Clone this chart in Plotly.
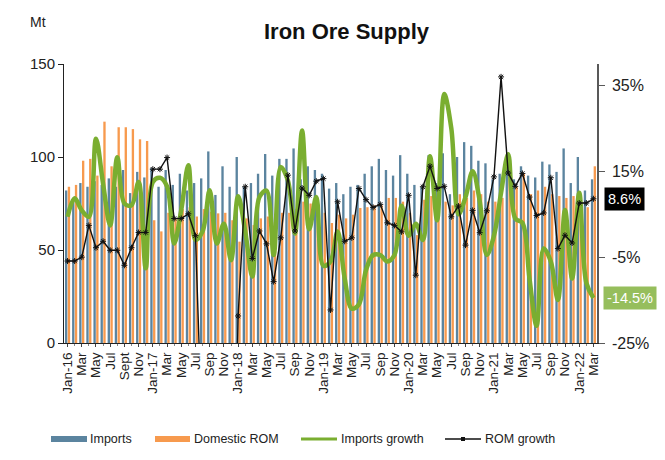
import plotly.graph_objects as go

# ---------------- data (Jan-16 .. Mar-22, monthly) ----------------
tick_labels = ["Jan-16", "Mar", "May", "Jul", "Sept", "Nov",
               "Jan-17", "Mar", "May", "Jul", "Sep", "Nov",
               "Jan-18", "Mar", "May", "Jul", "Sep", "Nov",
               "Jan-19", "Mar", "May", "Jul", "Sep", "Nov",
               "Jan-20", "Mar", "May", "Jul", "Sep", "Nov",
               "Jan-21", "Mar", "May", "Jul", "Sep", "Nov",
               "Jan-22", "Mar"]

imports = [82, 78, 86, 84, 87, 85, 88.5, 84, 93, 80.6, 92, 89,
           94, 84, 93, 85, 91, 82, 86, 88.5, 103, 79.6, 95, 84,
           100, 84, 86, 91, 101.6, 90, 99, 99, 104.6, 88, 95, 93,
           91, 83, 86, 80, 84, 85, 91, 95, 99, 93, 90, 101,
           91, 85, 84, 101, 86, 102, 80, 100, 108, 106, 98, 96.6,
           88, 91, 100, 88, 95, 90, 89, 97.5, 96, 92, 104.6, 86,
           100, 82, 88]

domestic_rom = [84, 85, 98, 99, 90, 119, 95, 116, 116, 115, 109.5, 108.6,
                66, 60, 70, 67, 72, 73, 68, 72, 70.6, 69.7, 70, 66,
                54.5, 67, 63.4, 67, 68, 65, 70, 70, 72, 76, 75, 72,
                70, 64.5, 69, 67, 69, 72.6, 73, 74, 74, 78, 78, 76,
                70, 58, 77, 79, 74, 76, 74, 80, 78, 82, 80, 76,
                76, 78, 98, 84, 91, 80, 82, 84, 80, 79, 78, 79,
                80, 73, 95]

imports_growth = [4.4, 8.7, 5.9, 4.4, 22.6, 12.1, 2.4, 18.3, 7.5, 7.1, 12.5, -7.6,
                  12.5, 13.5, 11.5, -1.8, 6, 16.4, -1, 1, 10.6, -1.8, 2.8, -5.7,
                  9.2, 1, -9.5, 9, 10.5, -4.5, 16, 12.9, 0.5, 24.5, 1.5, 9.0,
                  -7, -6, 1.0, -10, -17, -16, -8, -4.5, -4.5, -6, -4.5, 7,
                  0, 2.8, -1.0, 18.5, 3.6, 33, 25, 5, 9, 15, 8, -4.5,
                  0, 10, 19, 4, 3, -10, -21, -3, -6, -15, 6, -10,
                  10, -11, -14.5]

rom_growth = [-5.9, -5.9, -5, 2.4, -2.8, -1.3, -3.4, -3.4, -6.9, -2.8, 0.75, 0.75,
              15.5, 15.5, 18.2, 4.0, 4.0, 5.1, 0.0, -100, -100, -100, -100, -100,
              -18.7, 11.4, -5.3, 1.1, -1.9, -10.7, -0.5, 14.1, 1.1, 11.1, 9.4, 12.7,
              13.3, -17.3, 7.9, -1.3, -0.5, 11.0, 8.4, 6.6, 7.3, 3.0, 2.4, 0.9,
              9.4, -9.2, 11.4, 16.2, 11.0, 11.5, 4.4, 6.9, -2.2, 5.9, 0.7, 5.8,
              13.7, 37, 14.6, 11.5, 14.5, 9.0, 4.7, 5.3, 13.5, -3.0, 0.1, -1.7,
              7.6, 7.6, 8.6]

# ---------------- styling ----------------
FONT = "Liberation Sans, Arial, sans-serif"
C_IMP = "#5B849F"
C_ROM = "#F79A4E"
C_GREEN = "#7AAE30"
C_GREEN_LBL = "#96BE5C"

x = list(range(len(imports)))
tick_pos = list(range(0, len(imports), 2))

fig = go.Figure()
fig.add_trace(go.Bar(x=x, y=imports, name="Imports", marker_color=C_IMP,
                     marker_line_width=0, offset=-0.36, width=0.33, showlegend=False))
fig.add_trace(go.Bar(x=x, y=domestic_rom, name="Domestic ROM", marker_color=C_ROM,
                     marker_line_width=0, offset=0.03, width=0.33, showlegend=False))
fig.add_trace(go.Scatter(x=x, y=imports_growth, name="Imports growth", yaxis="y2",
                         mode="lines", line=dict(color=C_GREEN, width=4.5, shape="spline", smoothing=1),
                         showlegend=False))
fig.add_trace(go.Scatter(x=x, y=rom_growth, name="ROM growth", yaxis="y2",
                         mode="lines+markers", line=dict(color="#111111", width=1.4),
                         marker=dict(symbol="asterisk-open", size=5, line=dict(color="#111111", width=1)),
                         showlegend=False))

# page has an 8px body margin: figure is drawn offset by 8px
OFF = 8
W, H = 665 - OFF, 460 - OFF
L, T = 64 - OFF, 64 - OFF
PW, PH = 533, 279
R, B = W - L - PW, H - T - PH


def px(v):  # page pixel x -> paper
    return (v - OFF - L) / PW


def py(v):  # page pixel y -> paper
    return (OFF + T + PH - v) / PH


fig.update_layout(
    width=W, height=H,
    margin=dict(l=L, r=R, t=T, b=B, autoexpand=False),
    paper_bgcolor="white", plot_bgcolor="white",
    barmode="overlay",
    font=dict(family=FONT, color="#222222"),
    xaxis=dict(range=[-0.5, len(imports) - 0.5], tickmode="array", tickvals=tick_pos,
               ticktext=tick_labels, tickangle=-90, tickfont=dict(size=13.5, color="#222222"),
               showline=True, linecolor="#222222", linewidth=1, showgrid=False, zeroline=False,
               ticks="outside", ticklen=3, tickcolor="#444444",
               minor=dict(dtick=1, ticks="outside", ticklen=2, tickcolor="#888888")),
    yaxis=dict(range=[0, 150], tickvals=[0, 50, 100, 150], tickfont=dict(size=15, color="#222222"),
               showline=True, linecolor="#222222", linewidth=1, showgrid=False, zeroline=False,
               ticks="outside", ticklen=5, tickcolor="#222222"),
    yaxis2=dict(range=[-25, 40], overlaying="y", side="right", tickvals=[-25, -5, 15, 35],
                ticktext=["-25%", "-5%", "15%", "35%"], tickfont=dict(size=16, color="#222222"),
                showline=True, linecolor="#595959", linewidth=1.5, showgrid=False, zeroline=False,
                ticks="outside", ticklen=6, tickcolor="#595959", ticklabelstandoff=4),
)

annotations = [
    dict(text="<b>Iron Ore Supply</b>", x=px(347), y=py(31), xref="paper", yref="paper",
         showarrow=False, font=dict(size=22, color="#111111"), xanchor="center", yanchor="middle"),
    dict(text="Mt", x=px(38), y=py(22), xref="paper", yref="paper", showarrow=False,
         font=dict(size=14, color="#222222"), xanchor="center", yanchor="middle"),
    dict(text="8.6%", x=px(604), y=rom_growth[-1], xref="paper", yref="y2", showarrow=False,
         xanchor="left", yanchor="middle", bgcolor="#000000", font=dict(size=14.5, color="white"),
         borderpad=3),
    dict(text="-14.5%", x=px(603), y=imports_growth[-1], xref="paper", yref="y2", showarrow=False,
         xanchor="left", yanchor="middle", bgcolor=C_GREEN_LBL, font=dict(size=14.5, color="white"),
         borderpad=3),
]

# custom legend
LY = 439
shapes = [
    dict(type="rect", xref="paper", yref="paper", x0=px(51), x1=px(87), y0=py(442), y1=py(436),
         fillcolor=C_IMP, line=dict(width=0)),
    dict(type="rect", xref="paper", yref="paper", x0=px(155), x1=px(190), y0=py(442), y1=py(436),
         fillcolor=C_ROM, line=dict(width=0)),
    dict(type="line", xref="paper", yref="paper", x0=px(301), x1=px(337), y0=py(LY), y1=py(LY),
         line=dict(color=C_GREEN, width=3)),
    dict(type="line", xref="paper", yref="paper", x0=px(445), x1=px(481), y0=py(LY), y1=py(LY),
         line=dict(color="#111111", width=1.4)),
    dict(type="rect", xref="paper", yref="paper", x0=px(461), x1=px(465), y0=py(441), y1=py(437),
         fillcolor="#111111", line=dict(width=0)),
]
for text, xpos in [("Imports", 88), ("Domestic ROM", 192), ("Imports growth", 339), ("ROM growth", 483)]:
    annotations.append(dict(text=text, x=px(xpos), y=py(LY), xref="paper", yref="paper",
                            showarrow=False, xanchor="left", yanchor="middle",
                            font=dict(size=12.5, color="#222222")))

fig.update_layout(annotations=annotations, shapes=shapes)

fig.write_html("out.html")
